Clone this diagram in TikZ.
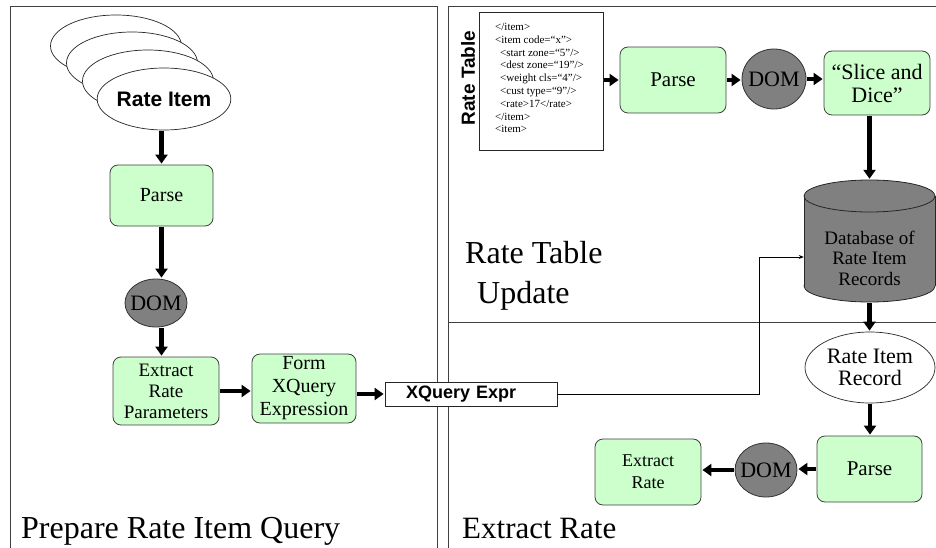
\documentclass[tikz,border=0pt]{standalone}
\usepackage{fontspec}
\setmainfont{Liberation Serif}
\setsansfont{Liberation Sans}
\usetikzlibrary{shapes.geometric,arrows.meta}
\definecolor{boxgreen}{HTML}{CCFFCC}
\definecolor{domgray}{HTML}{808080}
\definecolor{framegray}{HTML}{404040}

\begin{document}
\begin{tikzpicture}[x=1pt,y=-1pt,
  frame/.style={draw=framegray, line width=1pt},
  greenbox/.style={draw=black!75, fill=boxgreen, rounded corners=8pt,
    line width=0.8pt, align=center, inner sep=0pt},
  domnode/.style={ellipse, draw=black!80, fill=domgray, line width=0.8pt,
    inner sep=0pt, font=\fontsize{22}{24}\selectfont},
  itemoval/.style={ellipse, draw=black!85, fill=white, line width=0.7pt,
    minimum width=131pt, minimum height=62pt, inner sep=0pt},
  fat/.style={line width=4.5pt, -{Triangle[length=9pt,width=12pt]},
    shorten <=1pt, shorten >=1pt},
  thin/.style={line width=0.8pt, -{Stealth[length=5pt,width=4pt]}},
  biglabel/.style={anchor=base west, inner sep=0pt}]

\useasboundingbox (0,0) rectangle (936,548);

% panel frames
\draw[frame] (10,548) -- (10,7) -- (437,7) -- (437,548);
\draw[frame] (448,548) -- (448,7) -- (936,7);
\draw[frame] (448,322) -- (936,322);

% ---------- Prepare Rate Item Query ----------
\node[itemoval] (ri1) at (116,46) {};
\node[itemoval] (ri2) at (132,63) {};
\node[itemoval] (ri3) at (148,81) {};
\node[itemoval, font=\sffamily\bfseries\fontsize{21}{24}\selectfont] (ri4) at (164,99) {Rate Item};

\node[greenbox, minimum width=103pt, minimum height=61pt,
  font=\fontsize{20}{22}\selectfont] (parseL) at (161.5,195.5) {Parse};
\node[domnode, minimum width=62pt, minimum height=48pt] (domL) at (156,303) {\makebox[0pt]{DOM}};
\node[greenbox, minimum width=106pt, minimum height=68pt,
  font=\fontsize{19}{21}\selectfont] (exL) at (166,391) {Extract\\Rate\\Parameters};
\node[greenbox, minimum width=104pt, minimum height=69pt,
  font=\fontsize{20}{23}\selectfont] (formX) at (304,388.5) {Form\\XQuery\\Expression};

\node[draw=black!85, fill=white, line width=0.8pt, minimum width=172pt,
  minimum height=24pt, inner ysep=0pt, inner xsep=21pt, text width=130pt,
  align=left, font=\sffamily\bfseries\fontsize{18}{20}\selectfont] (xq) at (471,394) {XQuery Expr};

\draw[fat] (parseL.north |- ri4.south) -- (parseL.north);
\draw[fat] (parseL.south) -- (parseL.south |- domL.north);
\draw[fat] (parseL.south |- domL.south) -- (parseL.south |- exL.north);
\draw[fat] (exL.east) -- (exL.east -| formX.west);
\draw[fat] (xq.west -| formX.east) -- (xq.west);

\node[biglabel, font=\fontsize{32}{36}\selectfont] (prepLbl) at (21,538) {Prepare Rate Item Query};

% ---------- Rate Table Update ----------
\node[draw=black!85, fill=white, line width=0.8pt, minimum width=124pt,
  minimum height=138pt] (doc) at (541,81) {};
\node[anchor=north west, inner sep=0pt, align=left,
  font=\fontsize{11}{12.8}\selectfont] (docText) at (495,23)
  {</item>\\<item code=“x”>\\\hspace*{5pt}<start zone=“5”/>\\\hspace*{5pt}<dest zone=“19”/>\\%
   \hspace*{5pt}<weight cls=“4”/>\\\hspace*{5pt}<cust type=“9”/>\\\hspace*{5pt}<rate>17</rate>\\</item>\\<item>};
\node[rotate=90, inner sep=0pt, font=\sffamily\bfseries\fontsize{19}{22}\selectfont] (rtLbl) at (468,78) {Rate Table};

\node[greenbox, minimum width=106pt, minimum height=66pt,
  font=\fontsize{21}{23}\selectfont] (parseT) at (673,80) {Parse};
\node[domnode, minimum width=64pt, minimum height=60pt] (domT) at (774,79) {\makebox[0pt]{DOM}};
\node[greenbox, minimum width=106pt, minimum height=64pt,
  font=\fontsize{22}{23}\selectfont] (slice) at (877,83) {“Slice and\\Dice”};

% database cylinder
\fill[domgray, draw=black!85, line width=0.8pt] (869.5,286) ellipse [x radius=65.5, y radius=16];
\fill[domgray] (804,196) rectangle (935,286);
\draw[black!85, line width=0.8pt] (804,196) -- (804,286) (935,196) -- (935,286);
\fill[domgray, draw=black!85, line width=0.8pt] (869.5,196) ellipse [x radius=65.5, y radius=16];
\node[minimum width=131pt, minimum height=122pt, inner sep=0pt] (db) at (869.5,241) {};
\node[align=center, inner sep=0pt, font=\fontsize{19}{20.5}\selectfont] (dbText) at (869.5,258)
  {Database of\\Rate Item\\Records};

\draw[fat] (doc.east |- parseT.west) -- (parseT.west);
\draw[fat] (parseT.east) -- (parseT.east -| domT.west);
\draw[fat] (domT.east) -- (domT.east -| slice.west);
\draw[fat] (db.north |- slice.south) -- (db.north);

\node[biglabel, font=\fontsize{32}{36}\selectfont] (updLbl1) at (465,263) {Rate Table};
\node[biglabel, font=\fontsize{32}{36}\selectfont] (updLbl2) at (477,303) {Update};

% query expression feeding the database
\coordinate (turn) at (759,257);
\draw[line width=0.8pt] (xq.east) -| (turn);
\draw[thin] (turn) -- (db.west |- turn);

% ---------- Extract Rate ----------
\node[itemoval, minimum width=130pt, minimum height=71pt,
  font=\fontsize{22}{22}\selectfont, align=center] (rec) at (870,367.5) {Rate Item\\Record};
\node[greenbox, minimum width=105pt, minimum height=66pt,
  font=\fontsize{21}{23}\selectfont] (parseB) at (869.5,469) {Parse};
\node[domnode, minimum width=62pt, minimum height=54pt] (domB) at (766,470) {\makebox[0pt]{DOM}};
\node[greenbox, minimum width=106pt, minimum height=66pt,
  font=\fontsize{18}{22}\selectfont] (exB) at (648,472) {Extract\\Rate};

\draw[fat] (db.south) -- (db.south |- rec.north);
\draw[fat] (rec.south) -- (rec.south |- parseB.north);
\draw[fat] (parseB.west) -- (parseB.west -| domB.east);
\draw[fat] (domB.west) -- (domB.west -| exB.east);

\node[biglabel, font=\fontsize{31}{34}\selectfont] (extLbl) at (462,538) {Extract Rate};
\end{tikzpicture}
\end{document}
